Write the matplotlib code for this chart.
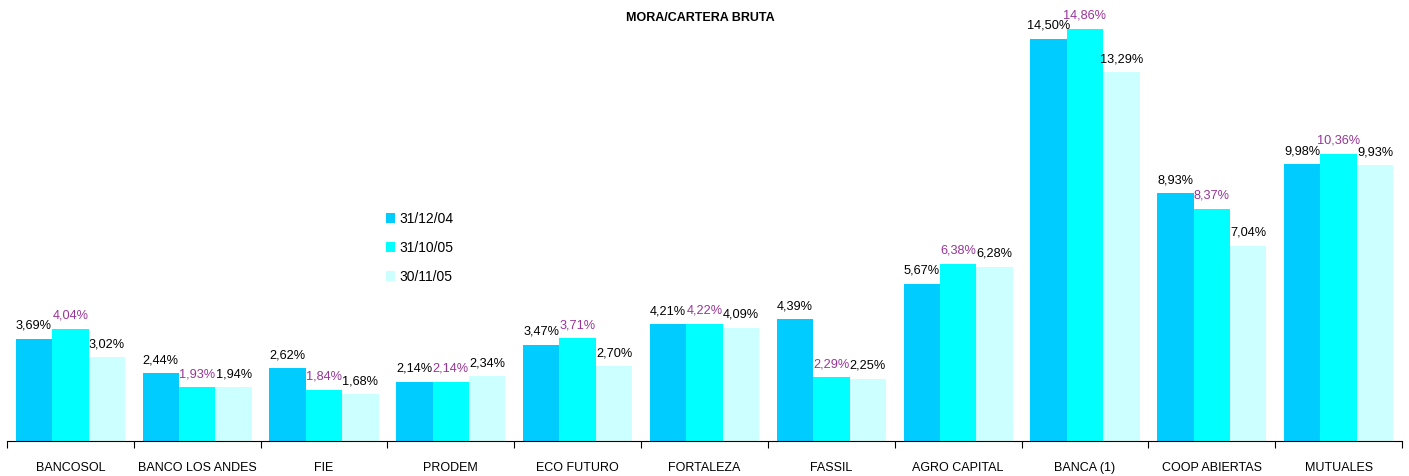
import matplotlib
matplotlib.use("Agg")
import matplotlib.pyplot as plt
import numpy as np

plt.rcParams['font.family'] = ['Liberation Sans', 'DejaVu Sans']

categories = ["BANCOSOL", "BANCO LOS ANDES", "FIE", "PRODEM", "ECO FUTURO",
              "FORTALEZA", "FASSIL", "AGRO CAPITAL", "BANCA (1)", "COOP ABIERTAS", "MUTUALES"]
series_names = ["31/12/04", "31/10/05", "30/11/05"]
s1 = [3.69, 2.44, 2.62, 2.14, 3.47, 4.21, 4.39, 5.67, 14.50, 8.93, 9.98]
s2 = [4.04, 1.93, 1.84, 2.14, 3.71, 4.22, 2.29, 6.38, 14.86, 8.37, 10.36]
s3 = [3.02, 1.94, 1.68, 2.34, 2.70, 4.09, 2.25, 6.28, 13.29, 7.04, 9.93]
colors = ["#00CCFF", "#00FFFF", "#CCFFFF"]
label_colors = ["#000000", "#993399", "#000000"]

W, H = 1409, 476
fig = plt.figure(figsize=(W/100, H/100), dpi=100)
ax_left, ax_right, ax_bottom, ax_top = 7, 1402, 441, 10
ax = fig.add_axes([ax_left/W, 1 - ax_bottom/H, (ax_right-ax_left)/W, (ax_bottom-ax_top)/H])

n = len(categories)
x = np.arange(n)
bw = 0.287
for i, (vals, c, lc, name) in enumerate(zip([s1, s2, s3], colors, label_colors, series_names)):
    pos = x + (i - 1) * bw
    ax.bar(pos, vals, width=bw, color=c, label=name, linewidth=0)
    for p, v in zip(pos, vals):
        ax.text(p, v + 0.36, f"{v:.2f}%".replace(".", ","), ha="center", va="baseline",
                fontsize=9.2, color=lc)

ax.set_xlim(-0.5, n - 0.5)
ax.set_ylim(0, (ax_bottom - ax_top) / 27.75)
for s in ["top", "right", "left"]:
    ax.spines[s].set_visible(False)
ax.spines["bottom"].set_color("#000000")
ax.set_yticks([])
ax.set_xticks(np.arange(-0.5, n, 1.0))
ax.set_xticklabels([])
ax.tick_params(axis="x", which="major", length=5, direction="out", color="black")
ax.set_xticks(x, minor=True)
ax.set_xticklabels(categories, minor=True, fontsize=9)
ax.tick_params(axis="x", which="minor", length=0, pad=15)

fig.text(700/W, 1 - 18/H, "MORA/CARTERA BRUTA", ha="center", va="center",
         fontsize=9, fontweight="bold")

ax.legend(loc="upper left",
          bbox_to_anchor=((380 - ax_left)/(ax_right-ax_left), 1 - (206-ax_top)/(ax_bottom-ax_top)),
          frameon=False, fontsize=10, handlelength=0.7, handleheight=0.7,
          handletextpad=0.3, labelspacing=1.1, borderaxespad=0)

fig.savefig("out.png", dpi=100)
